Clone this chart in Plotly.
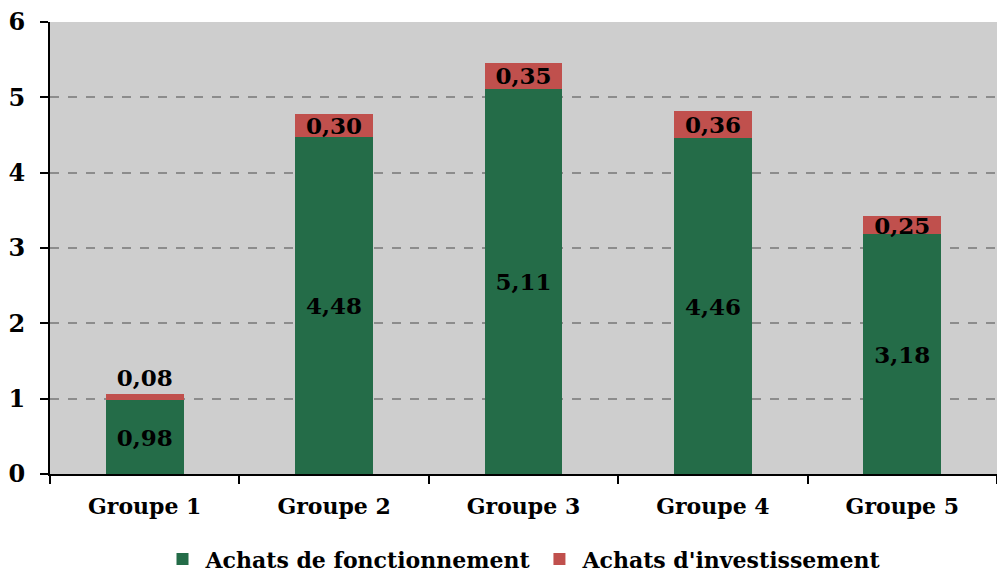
import plotly.graph_objects as go

categories = ["Groupe 1", "Groupe 2", "Groupe 3", "Groupe 4", "Groupe 5"]
fonctionnement = [0.98, 4.48, 5.11, 4.46, 3.18]
investissement = [0.08, 0.30, 0.35, 0.36, 0.25]
series_names = ["Achats de fonctionnement", "Achats d'investissement"]
y_ticks = [0, 1, 2, 3, 4, 5, 6]

FONT = "DejaVu Serif"
GREEN = "#246C48"
RED = "#C0504D"

fig = go.Figure()
fig.add_trace(go.Bar(
    x=categories, y=fonctionnement, name=series_names[0],
    marker=dict(color=GREEN, line=dict(width=0)),
    texttemplate="%{y:.2f}", textposition="inside", insidetextanchor="middle",
    textfont=dict(family=FONT, size=23, color="black", weight="bold"),
    constraintext="none", cliponaxis=False,
))
fig.add_trace(go.Bar(
    x=categories, y=investissement, name=series_names[1],
    marker=dict(color=RED, line=dict(width=0)),
    texttemplate="%{y:.2f}",
    textposition=["outside", "inside", "inside", "inside", "inside"],
    insidetextanchor="middle",
    textfont=dict(family=FONT, size=23, color="black", weight="bold"),
    constraintext="none", cliponaxis=False,
))

fig.update_layout(
    barmode="stack",
    bargap=0.59,
    separators=", ",
    width=997, height=573,
    margin=dict(l=50, r=0, t=22, b=99, autoexpand=False),
    paper_bgcolor="white",
    plot_bgcolor="#CECECE",
    font=dict(family=FONT, size=22, color="black", weight="bold"),
    uniformtext=dict(mode="show", minsize=23),
    showlegend=True,
    legend=dict(orientation="h", x=0.5, xanchor="center", y=-0.142, yanchor="top",
                font=dict(family=FONT, size=22, color="black", weight="bold"),
                itemwidth=36, traceorder="normal"),
    xaxis=dict(showline=True, linecolor="black", linewidth=2, ticks="outside",
               tickson="boundaries", ticklen=8, tickwidth=2, tickcolor="black",
               automargin=False, ticklabelstandoff=12,
               tickfont=dict(family=FONT, size=22, weight="bold"), showgrid=False),
    yaxis=dict(range=[0, 6], tickvals=y_ticks, showline=True, linecolor="black",
               linewidth=2, ticks="outside", ticklen=8, tickwidth=2, tickcolor="black",
               showgrid=True, gridcolor="#8C8C8C", griddash="dash", gridwidth=2,
               zeroline=False, automargin=False, ticklabelstandoff=10,
               tickfont=dict(family=FONT, size=24, weight="bold")),
)

fig.write_html("out.html", config={"displayModeBar": False},
               post_script="document.body.style.margin='0';")
